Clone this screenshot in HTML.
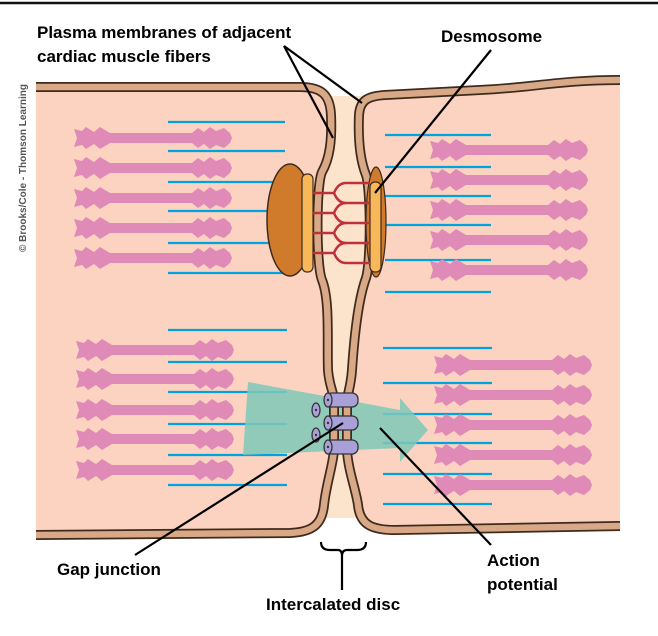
<!DOCTYPE html>
<html><head><meta charset="utf-8"><style>
html,body{margin:0;padding:0;background:#fff}
svg{display:block}
text{font-family:"Liberation Sans",Arial,sans-serif;font-weight:bold;fill:#000}
</style></head><body>
<svg width="658" height="636" viewBox="0 0 658 636" xmlns="http://www.w3.org/2000/svg">
<defs>
<g id="mf" fill="#E08AB8">
<rect x="10" y="-5" width="140" height="10"/>
<path d="M0,-9 L8,-7 L12,-11 L20,-6 L26,-11 L36,-5 L40,-5 L40,5 L36,5 L26,11 L20,6 L12,11 L8,7 L0,9 L3,0 Z"/>
<path d="M118,-5 L124,-10 L130,-6 L136,-11 L142,-7 L150,-10 L156,-5 L158,0 L156,5 L150,10 L142,7 L136,11 L130,6 L124,10 L118,5 Z"/>
</g>
</defs>
<line x1="0" y1="3" x2="658" y2="3" stroke="#111" stroke-width="2.5"/>
<rect x="316" y="96" width="58" height="422" fill="#FCE3CC"/>
<path d="M36,87 L300,87 C322,87 330,95 331,115 C332,140 330,158 322,172 C316,185 316,265 322,280 C330,300 327,340 328,370 C329,385 333,390 334,400 L334,450 C333,465 326,485 324,505 C322,525 312,532 290,533 L36,535 Z" fill="#FBD3C0"/>
<path d="M620,80 C560,80 530,88 480,90 L385,95 C368,96 360,100 359,115 C358,140 360,160 366,175 C371,190 371,262 366,278 C358,300 354,340 352,370 C351,385 348,392 347,400 L347,450 C348,470 356,490 358,505 C360,525 372,530 395,530 L620,526 Z" fill="#FBD3C0"/>
<g stroke="#00A3E0" stroke-width="2.2">
<line x1="168" y1="122" x2="285" y2="122"/><line x1="168" y1="151" x2="285" y2="151"/><line x1="168" y1="182" x2="285" y2="182"/><line x1="168" y1="211" x2="285" y2="211"/><line x1="168" y1="243" x2="285" y2="243"/><line x1="168" y1="273" x2="285" y2="273"/>
<line x1="168" y1="330" x2="287" y2="330"/><line x1="168" y1="362" x2="287" y2="362"/><line x1="168" y1="392" x2="287" y2="392"/><line x1="168" y1="424" x2="287" y2="424"/><line x1="168" y1="455" x2="287" y2="455"/><line x1="168" y1="485" x2="287" y2="485"/>
<line x1="385" y1="135" x2="491" y2="135"/><line x1="385" y1="167" x2="491" y2="167"/><line x1="385" y1="196" x2="491" y2="196"/><line x1="385" y1="225" x2="491" y2="225"/><line x1="385" y1="260" x2="491" y2="260"/><line x1="385" y1="292" x2="491" y2="292"/>
<line x1="383" y1="348" x2="492" y2="348"/><line x1="383" y1="383" x2="492" y2="383"/><line x1="383" y1="414" x2="492" y2="414"/><line x1="383" y1="443" x2="492" y2="443"/><line x1="383" y1="474" x2="492" y2="474"/><line x1="383" y1="504" x2="492" y2="504"/>
</g>
<use href="#mf" x="74" y="138"/><use href="#mf" x="74" y="168"/><use href="#mf" x="74" y="198"/><use href="#mf" x="74" y="228"/><use href="#mf" x="74" y="258"/>
<use href="#mf" x="76" y="350"/><use href="#mf" x="76" y="379"/><use href="#mf" x="76" y="410"/><use href="#mf" x="76" y="439"/><use href="#mf" x="76" y="470"/>
<use href="#mf" x="430" y="150"/><use href="#mf" x="430" y="180"/><use href="#mf" x="430" y="210"/><use href="#mf" x="430" y="240"/><use href="#mf" x="430" y="270"/>
<use href="#mf" x="434" y="365"/><use href="#mf" x="434" y="395"/><use href="#mf" x="434" y="425"/><use href="#mf" x="434" y="455"/><use href="#mf" x="434" y="485"/>
<polygon points="248,382 400,410 400,398 428,430 400,462 400,448 243,455" fill="#7FC8B8" opacity="0.85"/>
<g fill="none" stroke-linejoin="round">
<path d="M36,87 L300,87 C322,87 330,95 331,115 C332,140 330,158 322,172 C316,185 316,265 322,280 C330,300 327,340 328,370 C329,385 333,390 334,400 L334,450 C333,465 326,485 324,505 C322,525 312,532 290,533 L36,535" stroke="#3E2B1E" stroke-width="10"/>
<path d="M36,87 L300,87 C322,87 330,95 331,115 C332,140 330,158 322,172 C316,185 316,265 322,280 C330,300 327,340 328,370 C329,385 333,390 334,400 L334,450 C333,465 326,485 324,505 C322,525 312,532 290,533 L36,535" stroke="#D9A886" stroke-width="6.5"/>
<path d="M620,80 C560,80 530,88 480,90 L385,95 C368,96 360,100 359,115 C358,140 360,160 366,175 C371,190 371,262 366,278 C358,300 354,340 352,370 C351,385 348,392 347,400 L347,450 C348,470 356,490 358,505 C360,525 372,530 395,530 L620,526" stroke="#3E2B1E" stroke-width="10"/>
<path d="M620,80 C560,80 530,88 480,90 L385,95 C368,96 360,100 359,115 C358,140 360,160 366,175 C371,190 371,262 366,278 C358,300 354,340 352,370 C351,385 348,392 347,400 L347,450 C348,470 356,490 358,505 C360,525 372,530 395,530 L620,526" stroke="#D9A886" stroke-width="6.5"/>
</g>
<ellipse cx="290" cy="220" rx="23" ry="56" fill="#D07A2C" stroke="#3E2B1E" stroke-width="1.5"/>
<rect x="302" y="174" width="11" height="98" rx="5" fill="#F8B85A" stroke="#3E2B1E" stroke-width="1.2"/>
<ellipse cx="376" cy="222" rx="10" ry="55" fill="#D07A2C" stroke="#3E2B1E" stroke-width="1.2"/>
<rect x="370" y="182" width="11" height="90" rx="5" fill="#F8B85A" stroke="#3E2B1E" stroke-width="1.2"/>
<g stroke="#C0303A" stroke-width="2.5" fill="none">
<path d="M313,193 H334 M334,193 Q338,183 346,183 H370 M334,193 Q338,203 346,203 H370"/>
<path d="M313,213 H334 M334,213 Q338,203 346,203 M334,213 Q338,223 346,223 H370"/>
<path d="M313,233 H334 M334,233 Q338,223 346,223 M334,233 Q338,243 346,243 H370"/>
<path d="M313,253 H334 M334,253 Q338,243 346,243 M334,253 Q338,263 346,263 H370"/>
</g>
<g stroke="#333" stroke-width="1.3" fill="#A9A0D8">
<rect x="326" y="393" width="32" height="14" rx="6"/><ellipse cx="328" cy="400" rx="4" ry="7"/>
<rect x="326" y="416" width="32" height="14" rx="6"/><ellipse cx="328" cy="423" rx="4" ry="7"/>
<rect x="326" y="440" width="32" height="14" rx="6"/><ellipse cx="328" cy="447" rx="4" ry="7"/>
<ellipse cx="316" cy="410" rx="4" ry="7"/><ellipse cx="316" cy="435" rx="4" ry="7"/>
</g>
<g fill="#333"><circle cx="328" cy="400" r="1.2"/><circle cx="328" cy="423" r="1.2"/><circle cx="328" cy="447" r="1.2"/><circle cx="316" cy="410" r="1.2"/><circle cx="316" cy="435" r="1.2"/></g>
<g stroke="#000" stroke-width="2.2" fill="none">
<line x1="284" y1="46" x2="333" y2="138"/><line x1="284" y1="46" x2="362" y2="103"/>
<line x1="491" y1="50" x2="375" y2="193"/>
<line x1="135" y1="555" x2="343" y2="423"/>
<line x1="380" y1="428" x2="491" y2="545"/>
<path d="M321,542 Q321,550 330,550 H338 Q342,550 342,556 V590 M342,556 Q342,550 347,550 H357 Q366,550 366,542"/>
</g>
<text x="37" y="38" font-size="17">Plasma membranes of adjacent</text>
<text x="37" y="62" font-size="17">cardiac muscle fibers</text>
<text x="441" y="42" font-size="17">Desmosome</text>
<text x="57" y="575" font-size="17">Gap junction</text>
<text x="266" y="610" font-size="17">Intercalated disc</text>
<text x="487" y="566" font-size="17">Action</text>
<text x="487" y="590" font-size="17">potential</text>
<text transform="translate(26,252) rotate(-90)" font-size="10" style="fill:#555">© Brooks/Cole - Thomson Learning</text>
</svg>
</body></html>
